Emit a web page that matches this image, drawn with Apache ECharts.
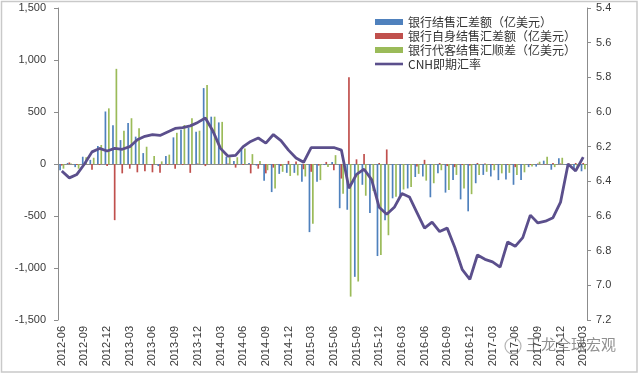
<!DOCTYPE html>
<html>
<head>
<meta charset="utf-8">
<script src="https://cdn.jsdelivr.net/npm/echarts@6/dist/echarts.min.js"></script>
<style>
html,body{margin:0;padding:0;background:#fff;}
#chart{width:640px;height:374px;}
</style>
</head>
<body>
<div id="chart"></div>
<script>
const categories = [
'2012-06','2012-07','2012-08','2012-09','2012-10','2012-11','2012-12',
'2013-01','2013-02','2013-03','2013-04','2013-05','2013-06','2013-07','2013-08','2013-09','2013-10','2013-11','2013-12',
'2014-01','2014-02','2014-03','2014-04','2014-05','2014-06','2014-07','2014-08','2014-09','2014-10','2014-11','2014-12',
'2015-01','2015-02','2015-03','2015-04','2015-05','2015-06','2015-07','2015-08','2015-09','2015-10','2015-11','2015-12',
'2016-01','2016-02','2016-03','2016-04','2016-05','2016-06','2016-07','2016-08','2016-09','2016-10','2016-11','2016-12',
'2017-01','2017-02','2017-03','2017-04','2017-05','2017-06','2017-07','2017-08','2017-09','2017-10','2017-11','2017-12',
'2018-01','2018-02','2018-03'
];
const seriesNames = ['银行结售汇差额（亿美元）','银行自身结售汇差额（亿美元）','银行代客结售汇顺差（亿美元）','CNH即期汇率'];
const bankNet = [
-60,10,-30,70,40,173,505,372,230,395,
263,105,-5,-20,77,256,330,350,311,730,
455,400,70,30,135,10,-15,-160,-270,-95,
-85,-85,-170,-655,-170,-10,20,-425,-440,-1085,
-200,-470,-885,-540,-330,-300,-235,-125,-120,-320,
-90,-275,-155,-340,-455,-185,-105,-120,-155,-150,
-200,-155,-30,-25,32,-55,55,-10,-55,-70
];
const bankOwn = [
-15,15,-10,-5,-55,-10,-20,-540,-90,-45,
-80,-70,-80,-85,-10,-45,-10,-85,5,-20,
0,-5,5,-35,-10,-90,-45,-90,-35,-20,
30,25,-50,-75,-15,20,-60,-140,835,45,
95,0,10,140,0,0,0,-25,40,0,
10,-20,-30,-10,-15,10,5,-10,0,-10,
-30,0,-10,5,-5,10,5,5,10,10
];
const clientNet = [
-45,5,-45,65,60,183,535,915,320,440,
343,166,77,25,90,300,375,440,320,760,
455,405,65,65,150,95,30,-60,-235,-75,
-115,-110,-120,-575,-155,-30,85,-285,-1275,-1130,
-305,-260,-875,-685,-315,-245,-220,-95,-160,-185,
-60,-250,-105,-235,-290,-105,-75,-60,-90,-85,
-105,-80,-25,22,70,-30,60,-20,-40,-50
];
const cnh = [
6.34,6.38,6.36,6.30,6.23,6.21,6.225,6.21,6.215,6.20,
6.16,6.14,6.13,6.135,6.115,6.095,6.09,6.08,6.06,6.035,
6.11,6.21,6.255,6.25,6.20,6.17,6.15,6.18,6.13,6.165,
6.22,6.265,6.29,6.205,6.205,6.205,6.205,6.22,6.44,6.36,
6.33,6.39,6.55,6.59,6.55,6.47,6.49,6.58,6.67,6.635,
6.69,6.67,6.78,6.91,6.965,6.825,6.85,6.865,6.895,6.75,
6.775,6.725,6.595,6.64,6.63,6.61,6.52,6.30,6.34,6.26
];
const leftTicks = {min:-1500, max:1500, interval:500};
const rightTicks = {min:5.4, max:7.2, interval:0.2};

const font = 'Liberation Sans, Arial, sans-serif';
const cjk = 'Noto Sans CJK SC, sans-serif';
const axisGray = '#8c8c8c';
const labelColor = '#3a3a3a';

const chart = echarts.init(document.getElementById('chart'), null, {renderer:'canvas'});
const barCommon = {type:'bar', barWidth:1.7, barGap:'0%', xAxisIndex:0, yAxisIndex:0};
chart.setOption({
  animation:false,
  backgroundColor:'#fff',
  textStyle:{fontFamily:font},
  grid:{left:58, right:53, top:8, bottom:54, containLabel:false},
  legend:{
    orient:'vertical', left:370, top:10, itemWidth:28, itemHeight:6, itemGap:0,
    textStyle:{fontFamily:cjk, fontSize:12, color:'#333', lineHeight:14},
    data:[
      {name:seriesNames[0], icon:'rect'},
      {name:seriesNames[1], icon:'rect'},
      {name:seriesNames[2], icon:'rect'},
      {name:seriesNames[3], icon:'path://M0,10 L28,10 L28,12.6 L0,12.6 Z'}
    ]
  },
  xAxis:[{
    type:'category', data:categories, position:'bottom', boundaryGap:true,
    axisLine:{show:false, onZero:false}, axisTick:{show:false},
    axisLabel:{interval:2, rotate:90, fontFamily:font, fontSize:11, color:labelColor, margin:6}
  },{
    type:'category', data:categories, position:'bottom', boundaryGap:true,
    axisLine:{show:true, onZero:true, lineStyle:{color:axisGray, width:1}},
    axisTick:{show:false}, axisLabel:{show:false}, splitLine:{show:false}
  }],
  yAxis:[{
    type:'value', position:'left', min:leftTicks.min, max:leftTicks.max, interval:leftTicks.interval,
    splitLine:{show:false},
    axisLine:{show:true, lineStyle:{color:axisGray}},
    axisTick:{show:true, length:4, lineStyle:{color:axisGray}},
    axisLabel:{fontFamily:font, fontSize:11, color:labelColor, margin:12,
      formatter:v => (v<0?'-':'') + Math.abs(v).toLocaleString('en-US')}
  },{
    type:'value', position:'right', inverse:true, min:rightTicks.min, max:rightTicks.max, interval:rightTicks.interval,
    splitLine:{show:false},
    axisLine:{show:true, lineStyle:{color:axisGray}},
    axisTick:{show:true, length:4, lineStyle:{color:axisGray}},
    axisLabel:{fontFamily:font, fontSize:11, color:labelColor, margin:9,
      formatter:v => v.toFixed(1)}
  }],
  series:[
    Object.assign({name:seriesNames[0], data:bankNet, itemStyle:{color:'#4F81BD'}}, barCommon),
    Object.assign({name:seriesNames[1], data:bankOwn, itemStyle:{color:'#C0504D'}}, barCommon),
    Object.assign({name:seriesNames[2], data:clientNet, itemStyle:{color:'#9BBB59'}}, barCommon),
    {name:seriesNames[3], type:'line', data:cnh, xAxisIndex:0, yAxisIndex:1,
     symbol:'none', smooth:false, z:5,
     lineStyle:{color:'#5B4F8C', width:2.8}, itemStyle:{color:'#5B4F8C'}}
  ],
  graphic:[
    {type:'rect', shape:{x:1.5, y:1.5, width:635.5, height:370.5},
     style:{fill:'none', stroke:'#c9c9c9', lineWidth:1.5}, silent:true, z:-1},
    {type:'circle', shape:{cx:513, cy:346, r:8},
     style:{fill:'none', stroke:'rgba(120,120,120,0.55)', lineWidth:1.2}, silent:true, z:10},
    {type:'text', left:526, top:337,
     style:{text:'王龙全球宏观', fontFamily:cjk, fontSize:15, fill:'rgba(95,95,95,0.7)'}, silent:true, z:10}
  ]
});
</script>
</body>
</html>
